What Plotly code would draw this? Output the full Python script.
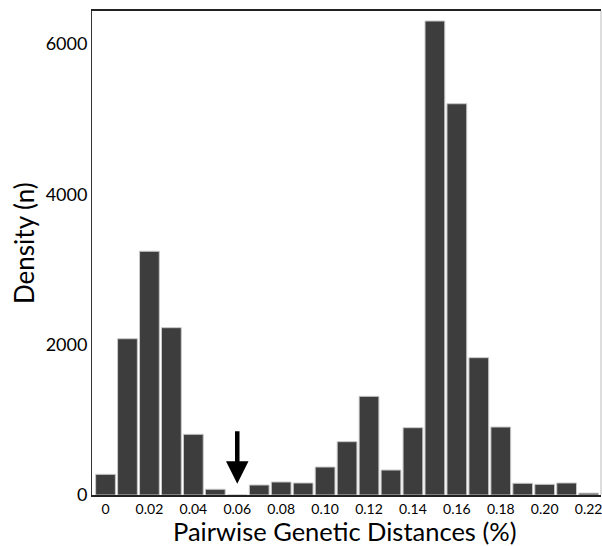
import plotly.graph_objects as go

# Data
bin_starts = [round(i * 0.01, 2) for i in range(23)]
counts = [275, 2078, 3241, 2225, 807, 76, 0, 133, 173, 160, 372, 709, 1312,
          332, 895, 6303, 5203, 1826, 904, 156, 142, 160, 25]
x_tick_vals = [0, 0.02, 0.04, 0.06, 0.08, 0.10, 0.12, 0.14, 0.16, 0.18, 0.20, 0.22]
x_tick_text = ["0", "0.02", "0.04", "0.06", "0.08", "0.10", "0.12", "0.14",
               "0.16", "0.18", "0.20", "0.22"]
y_tick_vals = [0, 2000, 4000, 6000]
y_tick_text = ["0", "2000", "4000", "6000"]
x_title = "Pairwise Genetic Distances (%)"
y_title = "Density (n)"
arrow_x = 0.06
arrow_y = 150

FONT = "Lato"

fig = go.Figure()
fig.add_trace(go.Bar(
    x=bin_starts, y=counts,
    marker=dict(color="#3d3d3d", line=dict(color="#c8c8c8", width=1)),
    showlegend=False,
))

fig.add_annotation(
    x=arrow_x, y=arrow_y, xref="x", yref="y",
    ax=0, ay=-54, axref="pixel", ayref="pixel",
    text="", showarrow=True,
    arrowhead=2, arrowwidth=4.5, arrowsize=1, arrowcolor="#000000",
    standoff=0,
)

# axis titles
fig.add_annotation(
    text=x_title, xref="paper", yref="paper", x=0.5, y=0,
    xanchor="center", yanchor="middle", xshift=-2, yshift=-36,
    showarrow=False, font=dict(size=25.5, family=FONT, color="#000000"),
)
fig.add_annotation(
    text=y_title, xref="paper", yref="paper", x=0, y=0.5,
    xanchor="center", yanchor="middle", xshift=-68, yshift=10,
    textangle=-90,
    showarrow=False, font=dict(size=26, family=FONT, color="#000000"),
)

fig.add_shape(type="line", xref="paper", yref="paper", x0=1, x1=1, y0=0, y1=1,
              line=dict(color="#bbbbbb", width=1))

fig.update_layout(
    width=602, height=546,
    margin=dict(l=92, r=1, t=11, b=51),
    paper_bgcolor="white", plot_bgcolor="white",
    bargap=0.1,
    font=dict(family=FONT, color="#000000"),
    xaxis=dict(
        range=[-0.00615, 0.22564],
        tickvals=x_tick_vals, ticktext=x_tick_text,
        tickfont=dict(size=14, family=FONT),
        ticklabeloverflow="allow",
        showgrid=False, zeroline=False,
        showline=True, linecolor="#222222", linewidth=1.5, mirror=True,
        ticks="",
    ),
    yaxis=dict(
        range=[0, 6436],
        tickvals=y_tick_vals, ticktext=y_tick_text,
        tickfont=dict(size=18, family=FONT),
        showgrid=False, zeroline=False,
        showline=True, linecolor="#333333", linewidth=1,
        ticks="",
    ),
)

fig.write_html(
    "out.html",
    config={"displayModeBar": False},
    post_script="document.body.style.margin='0';document.body.style.overflow='hidden';",
)
